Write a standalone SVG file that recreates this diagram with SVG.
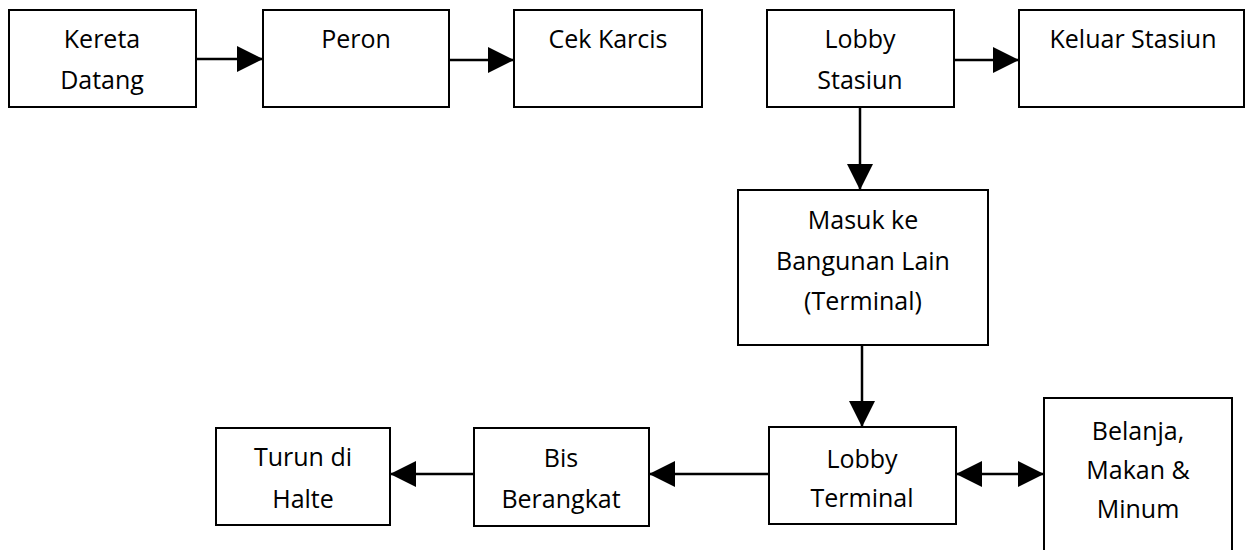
<svg xmlns="http://www.w3.org/2000/svg" width="1249" height="550" viewBox="0 0 1249 550">
<style>
.box{fill:#fff;stroke:#000;stroke-width:2}
.t{font-family:"Open Sans","Liberation Sans",sans-serif;font-size:25px;fill:#000;text-anchor:middle}
.c{stroke:#000;stroke-width:2.5;fill:none}
</style>
<defs>
<marker id="ah" markerUnits="userSpaceOnUse" markerWidth="26" markerHeight="26" viewBox="0 0 26 26" refX="26" refY="13" orient="auto-start-reverse">
<path d="M0,0 L26,13 L0,26 Z" fill="#000"/>
</marker>
</defs>
<rect width="1249" height="550" fill="#fff"/>
<g id="connectors">
<line class="c" x1="196" y1="59" x2="263" y2="59" marker-end="url(#ah)"/>
<line class="c" x1="449" y1="60" x2="514" y2="60" marker-end="url(#ah)"/>
<line class="c" x1="954" y1="60" x2="1019" y2="60" marker-end="url(#ah)"/>
<line class="c" x1="860" y1="107" x2="860" y2="190" marker-end="url(#ah)"/>
<line class="c" x1="862" y1="345" x2="862" y2="427" marker-end="url(#ah)"/>
<line class="c" x1="769" y1="474" x2="649" y2="474" marker-end="url(#ah)"/>
<line class="c" x1="474" y1="474" x2="390" y2="474" marker-end="url(#ah)"/>
<line class="c" x1="956" y1="474" x2="1044" y2="474" marker-start="url(#ah)" marker-end="url(#ah)"/>
</g>
<g id="kereta-datang"><rect class="box" x="9" y="10" width="187" height="97"/><text class="t" x="102" y="48">Kereta</text><text class="t" x="102" y="89">Datang</text></g>
<g id="peron"><rect class="box" x="263" y="10" width="186" height="97"/><text class="t" x="356" y="48">Peron</text></g>
<g id="cek-karcis"><rect class="box" x="514" y="10" width="188" height="97"/><text class="t" x="608" y="48">Cek Karcis</text></g>
<g id="lobby-stasiun"><rect class="box" x="767" y="10" width="187" height="97"/><text class="t" x="860" y="48">Lobby</text><text class="t" x="860" y="89">Stasiun</text></g>
<g id="keluar-stasiun"><rect class="box" x="1019" y="10" width="225" height="97"/><text class="t" x="1133" y="48">Keluar Stasiun</text></g>
<g id="masuk"><rect class="box" x="738" y="190" width="250" height="155"/><text class="t" x="863" y="229">Masuk ke</text><text class="t" x="863" y="270">Bangunan Lain</text><text class="t" x="863" y="310">(Terminal)</text></g>
<g id="lobby-terminal"><rect class="box" x="769" y="427" width="187" height="97"/><text class="t" x="862" y="468">Lobby</text><text class="t" x="862" y="507">Terminal</text></g>
<g id="belanja"><rect class="box" x="1044" y="398" width="188" height="160"/><text class="t" x="1138" y="440">Belanja,</text><text class="t" x="1138" y="479">Makan &amp;</text><text class="t" x="1138" y="518">Minum</text></g>
<g id="bis-berangkat"><rect class="box" x="474" y="428" width="175" height="98"/><text class="t" x="561" y="467">Bis</text><text class="t" x="561" y="508">Berangkat</text></g>
<g id="turun-halte"><rect class="box" x="216" y="428" width="174" height="97"/><text class="t" x="303" y="466">Turun di</text><text class="t" x="303" y="508">Halte</text></g>
</svg>
